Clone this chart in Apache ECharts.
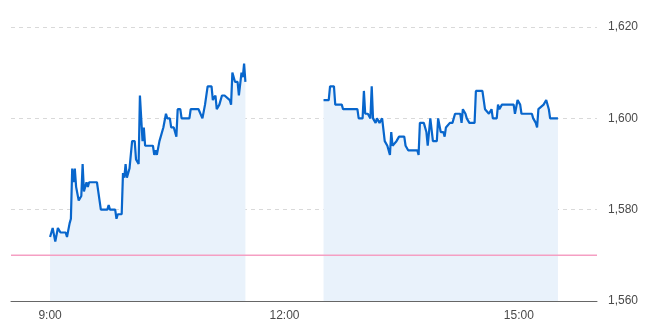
<!DOCTYPE html>
<html>
<head>
<meta charset="utf-8">
<script src="https://cdn.jsdelivr.net/npm/echarts@6/dist/echarts.min.js"></script>
<style>
html,body{margin:0;padding:0;background:#fff;}
#chart{width:660px;height:329px;}
</style>
</head>
<body>
<div id="chart"></div>
<script>
// Morning session: minutes since 9:00 and prices
var amMinutes = [0,2,4,6,8,12,13,15,16,17,18,19,20,22,24,25,26,28,29,30,36,37,39,44,45,46,50,51,52,55,56,57,58,59,61,63,65,66,68,69,71,72,73,79,80,81,82,84,85,87,89,90,92,93,95,97,98,100,101,107,108,114,117,119,120,121,124,125,127,128,130,132,134,138,139,140,142,144,145,147,148,149,150];
var amPrices  = [1574,1576,1573,1576,1575,1575,1574,1577,1578,1589,1586,1589,1585,1582,1583,1590,1584,1586,1585,1586,1586,1584,1580,1580,1581,1580,1580,1578,1579,1579,1588,1587,1590,1587,1589,1595,1595,1591,1590,1605,1595,1598,1594,1594,1592,1593,1592,1595,1595,1598,1601,1600,1600,1598,1598,1596,1602,1602,1600,1600,1602,1602,1600,1603,1603,1607,1607,1604,1605,1602,1603,1605,1605,1604,1603,1610,1608,1608,1605,1610,1609,1612,1608];
// Afternoon session: minutes since 12:30 and prices
var pmMinutes = [0,4,5,8,9,14,15,26,27,30,31,32,34,36,37,38,40,41,43,45,47,49,51,52,53,56,58,62,63,65,72,73,74,77,79,80,82,84,87,88,90,92,93,94,97,99,101,105,106,107,109,110,112,116,117,122,124,127,129,130,133,134,135,137,146,147,149,151,152,160,161,163,164,165,169,171,173,174,180];
var pmPrices  = [1604,1604,1607,1607,1603,1603,1602,1602,1600,1600,1606,1601,1601,1600,1607,1600,1599,1600,1599,1600,1595,1594,1592,1597,1594,1595,1596,1596,1594,1593,1593,1592,1599,1599,1597,1594,1600,1595,1595,1600,1597,1597,1596,1598,1599,1599,1601,1601,1599,1602,1601,1600,1599,1599,1606,1606,1602,1601,1602,1600,1600,1603,1602,1603,1603,1601,1604,1603,1601,1601,1600,1599,1598,1602,1603,1604,1602,1600,1600];
var prevClose = 1570;
var xTickLabels = {540:'9:00', 720:'12:00', 900:'15:00'};

var amStart = 540, pmStart = 750;
var amData = amMinutes.map(function(m,i){return [amStart+m, amPrices[i]];});
var pmData = pmMinutes.map(function(m,i){return [pmStart+m, pmPrices[i]];});

var lineColor = '#0866cc';
var areaColor = '#e9f2fb';
var refColor = '#f59fc3';
function mkSeries(data){
  return {
    type:'line', data:data, showSymbol:false, symbol:'none',
    lineStyle:{color:lineColor, width:2.2},
    itemStyle:{color:lineColor},
    areaStyle:{color:areaColor, opacity:1, origin:'start'},
    animation:false, z:3
  };
}

var chart = echarts.init(document.getElementById('chart'), null, {renderer:'canvas'});
chart.setOption({
  animation:false,
  grid:{left:11, right:63, top:27, bottom:28, containLabel:false},
  xAxis:{
    type:'value', min:510, max:960, interval:30,
    axisLine:{show:true, lineStyle:{color:'#666', width:1}},
    axisTick:{show:false},
    splitLine:{show:false},
    axisLabel:{
      margin:9, color:'#4a4a4a', fontSize:12, fontFamily:'Liberation Sans, Arial, sans-serif',
      showMinLabel:true, showMaxLabel:true,
      formatter:function(v){return xTickLabels[v] || '';}
    }
  },
  yAxis:{
    type:'value', position:'right', min:1560, max:1620, interval:20,
    axisLine:{show:false}, axisTick:{show:false},
    splitLine:{show:true, lineStyle:{color:'#d9d9d9', type:[4,4], width:1}},
    axisLabel:{
      margin:11, color:'#4a4a4a', fontSize:12, fontFamily:'Liberation Sans, Arial, sans-serif',
      formatter:function(v){return v.toLocaleString('en-US');}
    }
  },
  series:[
    mkSeries(amData),
    mkSeries(pmData),
    {
      type:'line', data:[[510,prevClose],[960,prevClose]], showSymbol:false, symbol:'none',
      lineStyle:{color:refColor, width:1.5, type:'solid'}, itemStyle:{color:refColor},
      silent:true, animation:false, z:4
    }
  ]
});
</script>
</body>
</html>
